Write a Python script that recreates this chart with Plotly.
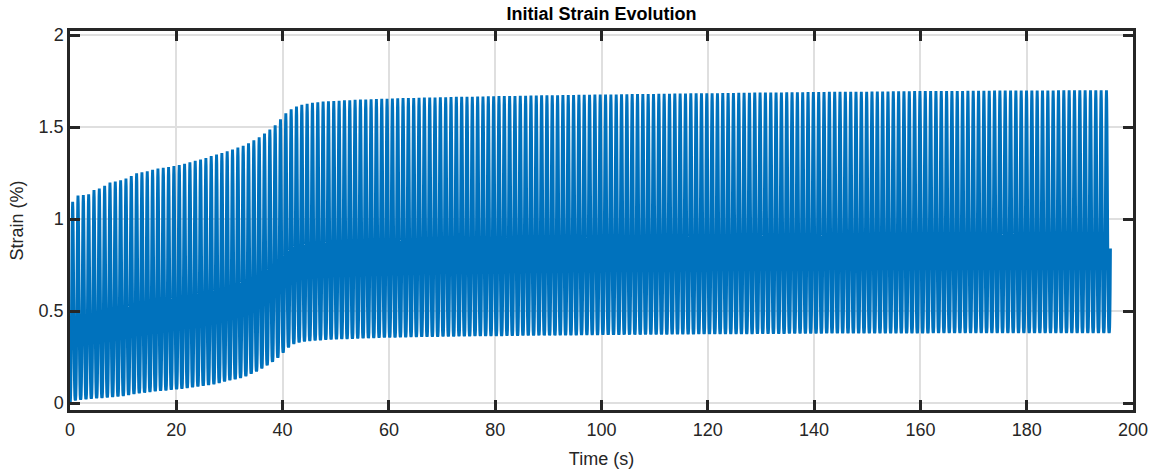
import plotly.graph_objects as go

# ---------------- data ----------------
title_text = "Initial Strain Evolution"
x_label = "Time (s)"
y_label = "Strain (%)"
x_ticks = [0, 20, 40, 60, 80, 100, 120, 140, 160, 180, 200]
y_ticks = [0, 0.5, 1, 1.5, 2]
y_tick_text = ["0", "0.5", "1", "1.5", "2"]

cycle_period = 1.0026  # s, one loading cycle

# strain at each cycle peak (%), cycle k peaks at (k + 0.5) * period
peak_strain = [
    1.094, 1.128, 1.130, 1.135, 1.158, 1.165, 1.180, 1.198, 1.204, 1.210,
    1.220, 1.234, 1.248, 1.254, 1.260, 1.268, 1.274, 1.279, 1.283, 1.288,
    1.294, 1.300, 1.308, 1.316, 1.323, 1.332, 1.342, 1.350, 1.358, 1.368,
    1.378, 1.388, 1.398, 1.412, 1.428, 1.444, 1.464, 1.487, 1.510, 1.542,
    1.575, 1.596, 1.612, 1.621, 1.627, 1.632, 1.635, 1.638, 1.640, 1.641,
    1.643, 1.645, 1.646, 1.648, 1.649, 1.650, 1.651, 1.652, 1.653, 1.654,
    1.655, 1.656, 1.657, 1.658, 1.658, 1.659, 1.660, 1.660, 1.661, 1.662,
    1.662, 1.663, 1.664, 1.664, 1.665, 1.665, 1.666, 1.666, 1.667, 1.667,
    1.668, 1.668, 1.669, 1.669, 1.670, 1.670, 1.671, 1.671, 1.672, 1.672,
    1.673, 1.673, 1.674, 1.674, 1.674, 1.675, 1.675, 1.675, 1.676, 1.676,
    1.677, 1.677, 1.677, 1.678, 1.678, 1.679, 1.679, 1.679, 1.680, 1.680,
    1.681, 1.681, 1.681, 1.682, 1.682, 1.682, 1.683, 1.683, 1.683, 1.684,
    1.684, 1.684, 1.685, 1.685, 1.685, 1.686, 1.686, 1.686, 1.687, 1.687,
    1.687, 1.688, 1.688, 1.688, 1.689, 1.689, 1.689, 1.689, 1.690, 1.690,
    1.690, 1.690, 1.691, 1.691, 1.691, 1.691, 1.692, 1.692, 1.692, 1.692,
    1.693, 1.693, 1.693, 1.693, 1.694, 1.694, 1.694, 1.694, 1.695, 1.695,
    1.695, 1.695, 1.695, 1.696, 1.696, 1.696, 1.696, 1.696, 1.697, 1.697,
    1.697, 1.697, 1.697, 1.698, 1.698, 1.698, 1.698, 1.698, 1.698, 1.699,
    1.699, 1.699, 1.699, 1.699, 1.699, 1.700, 1.700, 1.700, 1.700, 1.700,
    1.700, 1.700, 1.700, 1.700, 1.700,
]

# strain at each cycle valley (%), valley k at k * period
valley_strain = [
    0.000, 0.016, 0.020, 0.022, 0.025, 0.027, 0.029, 0.032, 0.034, 0.037,
    0.040, 0.045, 0.050, 0.055, 0.058, 0.062, 0.065, 0.068, 0.070, 0.073,
    0.076, 0.079, 0.083, 0.087, 0.091, 0.095, 0.099, 0.104, 0.110, 0.118,
    0.125, 0.130, 0.138, 0.147, 0.160, 0.173, 0.189, 0.206, 0.225, 0.247,
    0.275, 0.303, 0.322, 0.331, 0.336, 0.339, 0.341, 0.343, 0.345, 0.347,
    0.348, 0.349, 0.350, 0.351, 0.352, 0.353, 0.354, 0.355, 0.356, 0.357,
    0.358, 0.358, 0.359, 0.359, 0.360, 0.360, 0.361, 0.361, 0.362, 0.362,
    0.363, 0.363, 0.363, 0.364, 0.364, 0.364, 0.365, 0.365, 0.365, 0.366,
    0.366, 0.366, 0.367, 0.367, 0.367, 0.368, 0.368, 0.368, 0.369, 0.369,
    0.369, 0.369, 0.370, 0.370, 0.370, 0.370, 0.371, 0.371, 0.371, 0.371,
    0.372, 0.372, 0.372, 0.372, 0.373, 0.373, 0.373, 0.373, 0.374, 0.374,
    0.374, 0.374, 0.374, 0.375, 0.375, 0.375, 0.375, 0.375, 0.376, 0.376,
    0.376, 0.376, 0.376, 0.377, 0.377, 0.377, 0.377, 0.377, 0.377, 0.378,
    0.378, 0.378, 0.378, 0.378, 0.378, 0.379, 0.379, 0.379, 0.379, 0.379,
    0.379, 0.379, 0.380, 0.380, 0.380, 0.380, 0.380, 0.380, 0.380, 0.380,
    0.381, 0.381, 0.381, 0.381, 0.381, 0.381, 0.381, 0.381, 0.381, 0.381,
    0.381, 0.381, 0.382, 0.382, 0.382, 0.382, 0.382, 0.382, 0.382, 0.382,
    0.382, 0.382, 0.382, 0.382, 0.382, 0.382, 0.382, 0.382, 0.382, 0.382,
    0.382, 0.382, 0.382, 0.382, 0.382, 0.382, 0.382, 0.382, 0.382, 0.382,
    0.382, 0.382, 0.382, 0.382, 0.382, 0.382,
]

# normalised rise from valley (0) to peak (1), sampled every 1/20 of a cycle
rise_shape = [0.0, 0.003, 0.023, 0.080, 0.183, 0.330, 0.508, 0.691, 0.852, 0.961, 1.0]

end_strain = 0.84  # last recorded sample

# ---------------- build the recorded trace ----------------
step = cycle_period / 20.0
n_half = len(rise_shape) - 1
time_s, strain = [], []
for k, pk in enumerate(peak_strain):
    lo_a = valley_strain[k]
    lo_b = valley_strain[k + 1]
    t0 = k * cycle_period
    for i in range(n_half):
        time_s.append(t0 + i * step)
        strain.append(lo_a + (pk - lo_a) * rise_shape[i])
    for i in range(n_half):
        time_s.append(t0 + cycle_period / 2 + i * step)
        strain.append(lo_b + (pk - lo_b) * rise_shape[n_half - i])
k_last = len(peak_strain)
t_last = k_last * cycle_period
for i in range(5):
    time_s.append(t_last + i * step)
    strain.append(valley_strain[k_last] + (peak_strain[-1] - valley_strain[k_last]) * rise_shape[i])
time_s.append(t_last + 5 * step)
strain.append(end_strain)

# ---------------- figure ----------------
axis_col = "#262626"
grid_col = "#dfdfdf"
font_fam = "Liberation Sans, Arial, Helvetica, sans-serif"

fig = go.Figure()
fig.add_trace(go.Scatter(
    x=time_s, y=strain, mode="lines",
    line=dict(color="#0072BD", width=2.9, simplify=False),
    hoverinfo="skip", showlegend=False,
))

fig.update_layout(
    width=1156, height=470,
    margin=dict(l=70, r=23, t=31, b=60),
    paper_bgcolor="white", plot_bgcolor="white",
    font=dict(family=font_fam, size=18, color=axis_col),
    title=dict(text="<b>" + title_text + "</b>", x=0.5203, xanchor="center",
               y=0.970, yanchor="middle",
               font=dict(family=font_fam, size=18, color="black")),
    showlegend=False,
)

fig.update_xaxes(
    range=[0, 200], tickvals=x_ticks, ticktext=[str(v) for v in x_ticks],
    showgrid=True, gridcolor=grid_col, gridwidth=2,
    showline=True, linecolor=axis_col, linewidth=2.5, mirror="allticks",
    ticks="inside", ticklen=10, tickwidth=2.5, tickcolor=axis_col,
    zeroline=False, ticklabelstandoff=2, automargin=False,
    title=dict(text=x_label, standoff=14, font=dict(size=18)),
)
fig.update_yaxes(
    range=[-0.038, 2.022], tickvals=y_ticks, ticktext=y_tick_text,
    showgrid=True, gridcolor=grid_col, gridwidth=2,
    showline=True, linecolor=axis_col, linewidth=2.5, mirror="allticks",
    ticks="inside", ticklen=10, tickwidth=2.5, tickcolor=axis_col,
    zeroline=False, ticklabelstandoff=0, automargin=False,
    title=dict(text=y_label, standoff=11, font=dict(size=18)),
)

fig.write_html("out.html")
